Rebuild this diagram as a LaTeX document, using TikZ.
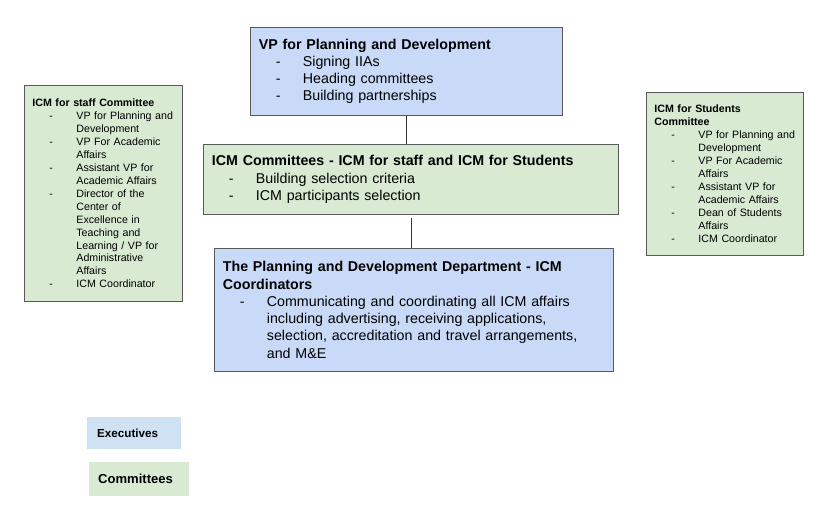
\documentclass[tikz,border=0pt]{standalone}
\usepackage{fontspec}
\setmainfont{Liberation Sans}
\usepackage{tikz}
\usetikzlibrary{positioning,calc}
\definecolor{execblue}{HTML}{C9DAF8}
\definecolor{commgreen}{HTML}{D9EAD3}
\definecolor{legblue}{HTML}{CFE2F3}
\definecolor{edgegray}{HTML}{595959}
\definecolor{linkgray}{HTML}{333333}
\newcommand{\dashitem}[1]{\mbox{\makebox[44bp][l]{\hspace*{17bp}-}#1}}
\newcommand{\contitem}[1]{\mbox{\hspace*{44bp}#1}}
\tikzset{
	block/.style = {draw=edgegray, line width=0.8bp, rectangle, anchor=north west, align=left, inner ysep=0pt},
	bigblock/.style = {block, font=\fontsize{14.3}{17.3}\selectfont, inner xsep=8.5bp},
	smallblock/.style = {block, font=\fontsize{10.7}{13}\selectfont, inner xsep=8bp},
	exec/.style = {fill=execblue},
	comm/.style = {fill=commgreen},
	legend/.style = {rectangle, anchor=north west, align=left, inner ysep=0pt, font=\bfseries},
	link/.style = {draw=linkgray, line width=0.8bp}
}
\begin{document}
\begin{tikzpicture}[x=1bp,y=-1bp]
		\useasboundingbox (0,0) rectangle (829,513);
		\node [bigblock, exec, text width=295bp, minimum width=312bp, minimum height=88bp] (vp) at (250,27) {\textbf{VP for Planning and Development}\\
			\dashitem{Signing IIAs}\\
			\dashitem{Heading committees}\\
			\dashitem{Building partnerships}};
		\node [bigblock, comm, text width=398bp, minimum width=415bp, minimum height=70bp] (icm) at (203,144) {\textbf{ICM Committees - ICM for staff and ICM for Students}\\
			\dashitem{Building selection criteria}\\
			\dashitem{ICM participants selection}};
		\node [bigblock, exec, text width=382bp, minimum width=399bp, minimum height=123bp] (dept) at (214,248) {\textbf{The Planning and Development Department - ICM}\\
			\textbf{Coordinators}\\
			\dashitem{Communicating and coordinating all ICM affairs}\\
			\contitem{including advertising, receiving applications,}\\
			\contitem{selection, accreditation and travel arrangements,}\\
			\contitem{and M\&E}};

		\node [smallblock, comm, text width=142bp, minimum width=158bp, minimum height=216bp] (staff) at (24,85) {\textbf{ICM for staff Committee}\\
			\dashitem{VP for Planning and}\\
			\contitem{Development}\\
			\dashitem{VP For Academic}\\
			\contitem{Affairs}\\
			\dashitem{Assistant VP for}\\
			\contitem{Academic Affairs}\\
			\dashitem{Director of the}\\
			\contitem{Center of}\\
			\contitem{Excellence in}\\
			\contitem{Teaching and}\\
			\contitem{Learning / VP for}\\
			\contitem{Administrative}\\
			\contitem{Affairs}\\
			\dashitem{ICM Coordinator}};
		\node [smallblock, comm, text width=141bp, minimum width=157bp, minimum height=163bp] (students) at (646,92) {\textbf{ICM for Students}\\
			\textbf{Committee}\\
			\dashitem{VP for Planning and}\\
			\contitem{Development}\\
			\dashitem{VP For Academic}\\
			\contitem{Affairs}\\
			\dashitem{Assistant VP for}\\
			\contitem{Academic Affairs}\\
			\dashitem{Dean of Students}\\
			\contitem{Affairs}\\
			\dashitem{ICM Coordinator}};

		\node [legend, fill=legblue, font=\fontsize{11.7}{14}\selectfont\bfseries, inner xsep=10bp, text width=74bp, minimum height=32bp] (lexec) at (87,417) {Executives};
		\node [legend, fill=commgreen, font=\fontsize{13.1}{15.5}\selectfont\bfseries, inner xsep=9bp, text width=82bp, minimum height=34bp] (lcomm) at (89,462) {Committees};

		\coordinate (icmlink) at ($(icm.south)+(0.5,3)$);
		\draw [link] (vp.south) -- (vp.south |- icm.north);
		\draw [link] (icmlink) -- (icmlink |- dept.north);
	\end{tikzpicture}
\end{document}
